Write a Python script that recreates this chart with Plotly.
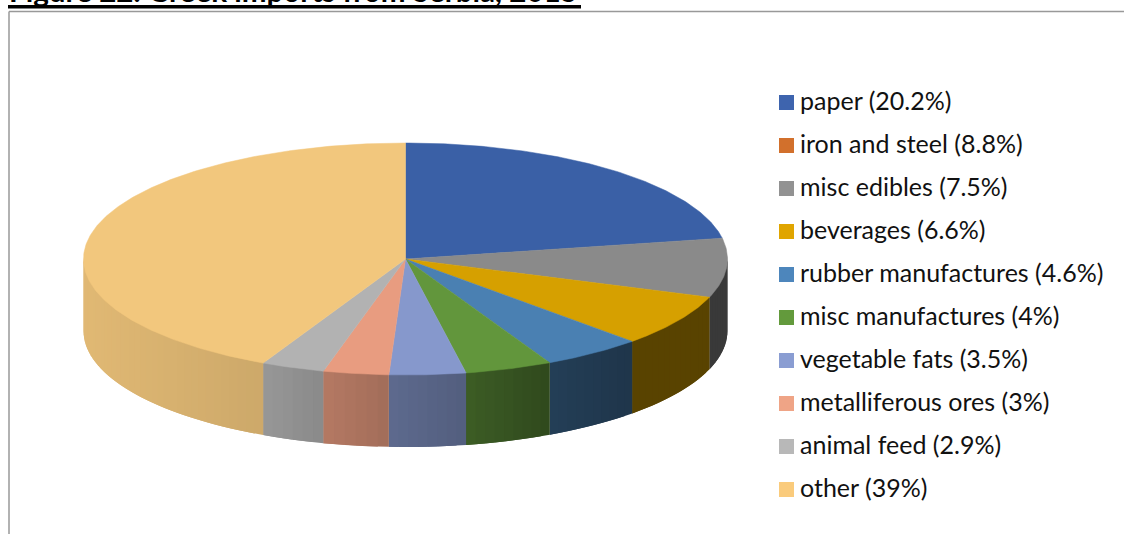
import numpy as np
import plotly.graph_objects as go

# ---- data ----
categories = ["paper", "iron and steel", "misc edibles", "beverages", "rubber manufactures",
              "misc manufactures", "vegetable fats", "metalliferous ores", "animal feed", "other"]
shares = [20.2, 8.8, 7.5, 6.6, 4.6, 4, 3.5, 3, 2.9, 39]
# The reference draws no wedge for iron and steel (legend entry only)
drawn = [20.2, 0, 7.5, 6.6, 4.6, 4, 3.5, 3, 2.9, 39]
legend_colors = ["#3E64AE", "#D2702C", "#929292", "#E0A500", "#4D86BC",
                 "#639A3C", "#8A9DD2", "#EFA486", "#B8B8B8", "#FACB7C"]
top_colors = ["#3A60A6", "#C86A2A", "#8A8A8A", "#D6A000", "#4A80B2",
              "#62963C", "#8698CC", "#E89C80", "#B2B2B2", "#F2C77D"]
title = "Figure 22. Greek imports from Serbia, 2015"

# ---- geometry / style ----
CX, CY, RX, RY, DEPTH = 405.5, 259.0, 322.0, 116.0, 72.0
SHADE_X = [83, 262, 323, 389, 467, 550, 632, 727]
SHADE_F = [0.93, 0.85, 0.78, 0.70, 0.62, 0.49, 0.42, 0.42]


def rgb(h):
    return np.array([int(h[i:i + 2], 16) for i in (1, 3, 5)], float)


def shade(h, x):
    f = np.interp(x, SHADE_X, SHADE_F)
    c = np.clip(rgb(h) * f, 0, 255).astype(int)
    return f"rgb({c[0]},{c[1]},{c[2]})"


def pt(theta):
    return CX + RX * np.sin(theta), CY - RY * np.cos(theta)


fig = go.Figure()
total = sum(drawn)
edges = np.cumsum([0] + drawn) / total * 2 * np.pi

# side wall: overlapping vertical strips, front half only
for i, col in enumerate(top_colors):
    a0, a1 = max(edges[i], np.pi / 2), min(edges[i + 1], 3 * np.pi / 2)
    if a1 <= a0:
        continue
    n = max(2, int((a1 - a0) / 0.03))
    ts = np.linspace(a0, a1, n + 1)
    for k in range(n):
        tt = ts[k:min(k + 3, n + 1)]
        xs, ys = pt(tt)
        c = shade(col, xs[:2].mean())
        fig.add_trace(go.Scatter(
            x=[*xs, *xs[::-1], xs[0]],
            y=[*(ys - 2), *(ys[::-1] + DEPTH), ys[0] - 2],
            mode="lines", fill="toself", fillcolor=c,
            line=dict(width=0), hoverinfo="skip", showlegend=False))

# top face
for i, col in enumerate(top_colors):
    if drawn[i] == 0:
        continue
    ts = np.linspace(edges[i], edges[i + 1], max(3, int((edges[i + 1] - edges[i]) / 0.01)))
    xs, ys = pt(ts)
    fig.add_trace(go.Scatter(
        x=[CX, *xs, CX], y=[CY, *ys, CY], mode="lines", fill="toself", fillcolor=col,
        line=dict(color=col, width=0.5), name=categories[i], hoverinfo="name", showlegend=False))

# legend
labels = [f"{c} ({s:g}%)" for c, s in zip(categories, shares)]
rows = [102.5 + 43 * i for i in range(len(labels))]
fig.add_trace(go.Scatter(
    x=[786.5] * len(labels), y=rows, mode="markers",
    marker=dict(symbol="square", size=15, color=legend_colors, line=dict(width=0)),
    hoverinfo="skip", showlegend=False))
fig.add_trace(go.Scatter(
    x=[800] * len(labels), y=[r + 1.5 for r in rows], mode="text", text=labels,
    textposition="middle right",
    textfont=dict(family="Lato", size=25, color="#111111"),
    hoverinfo="skip", showlegend=False))

# title (cropped by the top of the picture) and frame
fig.add_annotation(x=8, y=9.5, xref="x", yref="y", text=f"<b>{title}</b>", showarrow=False,
                   xanchor="left", yanchor="bottom",
                   font=dict(family="Lato", size=29.6, color="#000000"), borderpad=0)
fig.update_layout(
    width=1124, height=534, margin=dict(l=0, r=0, t=0, b=0), autosize=False,
    paper_bgcolor="white", plot_bgcolor="white", showlegend=False,
    xaxis=dict(range=[0, 1124], visible=False, fixedrange=True),
    yaxis=dict(range=[534, 0], visible=False, fixedrange=True),
    shapes=[
        dict(type="rect", x0=8, x1=581, y0=5, y1=8.5, fillcolor="#000", line_width=0, layer="above"),
        dict(type="line", x0=9, x1=1124, y0=11.5, y1=11.5, line=dict(color="#999", width=1.5)),
        dict(type="line", x0=9, x1=9, y0=11.5, y1=534, line=dict(color="#999", width=1.5)),
    ])
fig.write_html("out.html", config={"displayModeBar": False}, post_script=(
    "document.documentElement.style.overflow='hidden';"
    "document.body.style.margin='0';document.body.style.overflow='hidden';"))
